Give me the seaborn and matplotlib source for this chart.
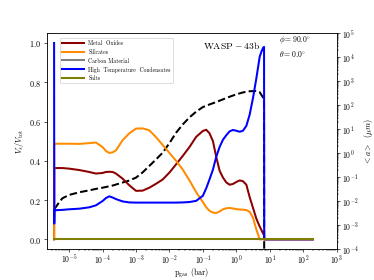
import matplotlib
matplotlib.use("Agg")
import matplotlib.pyplot as plt
import seaborn as sns

plt.rcParams['font.family'] = 'serif'
plt.rcParams['font.serif'] = ['cmr10']
plt.rcParams['mathtext.fontset'] = 'cm'
plt.rcParams['axes.formatter.use_mathtext'] = True

# gas pressure grid (bar)
pressure = [3.55e-6, 3.59e-6, 3.63e-6, 6.31e-6, 1.0e-5, 2.0e-5, 3.98e-5, 6.31e-5,
            1.0e-4, 1.26e-4, 1.58e-4, 2.0e-4, 2.51e-4, 3.98e-4, 6.31e-4, 1.0e-3,
            1.58e-3, 2.51e-3, 3.98e-3, 6.31e-3, 1.0e-2, 1.58e-2, 2.51e-2, 3.98e-2,
            6.31e-2, 0.1, 0.126, 0.158, 0.2, 0.251, 0.316, 0.398, 0.501, 0.631,
            0.794, 1.0, 1.26, 1.58, 2.0, 2.51, 3.16, 3.98, 5.01, 5.62, 6.31, 6.76,
            6.84, 195.0]

# volume fractions V_s / V_tot
metal_oxides = [0.0, 0.363, 0.363, 0.363, 0.36, 0.353, 0.343, 0.335,
                0.338, 0.343, 0.344, 0.343, 0.335, 0.309, 0.275, 0.247,
                0.248, 0.263, 0.283, 0.305, 0.34, 0.382, 0.425, 0.47,
                0.522, 0.552, 0.558, 0.54, 0.50, 0.42, 0.35, 0.315, 0.29, 0.278,
                0.282, 0.292, 0.30, 0.296, 0.278, 0.215, 0.16, 0.105, 0.065, 0.048, 0.03, 0.022,
                0.0, 0.0]
silicates = [0.0, 0.487, 0.487, 0.487, 0.487, 0.486, 0.49, 0.493,
             0.47, 0.45, 0.44, 0.443, 0.453, 0.505, 0.54, 0.564,
             0.565, 0.555, 0.52, 0.48, 0.44, 0.40, 0.355, 0.30,
             0.24, 0.19, 0.163, 0.145, 0.136, 0.134, 0.142, 0.153, 0.158, 0.16,
             0.157, 0.154, 0.152, 0.151, 0.149, 0.14, 0.11, 0.05, 0.0, 0.0, 0.0, 0.0,
             0.0, 0.0]
carbon = [0.0] * len(pressure)
high_temp = [1.0, 0.08, 0.148, 0.15, 0.153, 0.156, 0.163, 0.173,
             0.195, 0.21, 0.219, 0.213, 0.205, 0.193, 0.188, 0.187,
             0.187, 0.187, 0.187, 0.187, 0.187, 0.187, 0.188, 0.19,
             0.196, 0.222, 0.26, 0.305, 0.355, 0.42, 0.47, 0.507, 0.53, 0.55,
             0.557, 0.553, 0.548, 0.553, 0.578, 0.635, 0.72, 0.82, 0.93, 0.955, 0.975, 0.98,
             0.0, 0.0]
salts = [0.0] * len(pressure)

# mean particle size <a> (micron)
p_size = [3.63e-6, 5.0e-6, 6.31e-6, 1.0e-5, 2.0e-5, 3.98e-5, 6.31e-5, 1.0e-4,
          2.0e-4, 6.31e-4, 1.0e-3, 1.58e-3, 2.51e-3, 3.98e-3, 6.31e-3, 1.0e-2,
          1.58e-2, 2.51e-2, 3.98e-2, 6.31e-2, 0.1, 0.158, 0.251, 0.398, 0.631,
          1.0, 1.58, 2.51, 3.98, 5.01, 6.31, 6.76, 6.84]
a_size = [0.00468, 0.00891, 0.0132, 0.0182, 0.0234, 0.0282, 0.0324, 0.0363,
          0.0447, 0.0724, 0.0955, 0.158, 0.295, 0.550, 1.05, 2.63,
          7.08, 15.8, 30.9, 53.7, 83.2, 107, 135, 174, 224,
          282, 339, 380, 389, 347, 209, 126, 1e-6]

labels = ["Metal  Oxides", "Silicates", "Carbon Material",
          "High  Temperature  Condensates", "Salts"]
colors = ["darkred", "darkorange", "gray", "blue", "olive"]
fractions = [metal_oxides, silicates, carbon, high_temp, salts]

fig, ax = plt.subplots(figsize=(6.4, 4.8), dpi=58.4375)
ax2 = ax.twinx()

for lab, vals, col in zip(labels, fractions, colors):
    sns.lineplot(x=pressure, y=vals, ax=ax, color=col, lw=2.5,
                 estimator=None, sort=False, label=lab)

sns.lineplot(x=p_size, y=a_size, ax=ax2, color="k", lw=2.5, linestyle="--",
             estimator=None, sort=False)

ax.set_xscale("log")
ax.set_xlim(2.14e-6, 1e3)
ax.set_ylim(-0.05, 1.05)
ax2.set_yscale("log")
ax2.set_ylim(1e-4, 1e5)

ax.tick_params(axis="x", labelsize=9.5, pad=1)
ax2.tick_params(axis="y", labelsize=9.5)

ax.set_zorder(ax2.get_zorder() + 1)
ax.patch.set_visible(False)

ax.set_xlabel(r"$\rm p_{gas}$ (bar)", labelpad=1)
ax.set_ylabel(r"$V_s/V_{\rm tot}$")
ax2.set_ylabel(r"$< a >\ \ (\mu m)$")

ax.legend(loc="upper left", bbox_to_anchor=(0.046, 0.978), borderaxespad=0,
          fontsize=7, handlelength=3.8)

ax.text(0.639, 0.947, r"$\rm WASP-43b$", transform=ax.transAxes,
        ha="center", va="center", fontsize=12)
ax.text(0.80, 0.969, r"$\phi = 90.0^{\circ}$", transform=ax.transAxes,
        ha="left", va="center", fontsize=9.5)
ax.text(0.80, 0.906, r"$\theta = 0.0^{\circ}$", transform=ax.transAxes,
        ha="left", va="center", fontsize=9.5)

fig.savefig("out.png", dpi=58.4375)
